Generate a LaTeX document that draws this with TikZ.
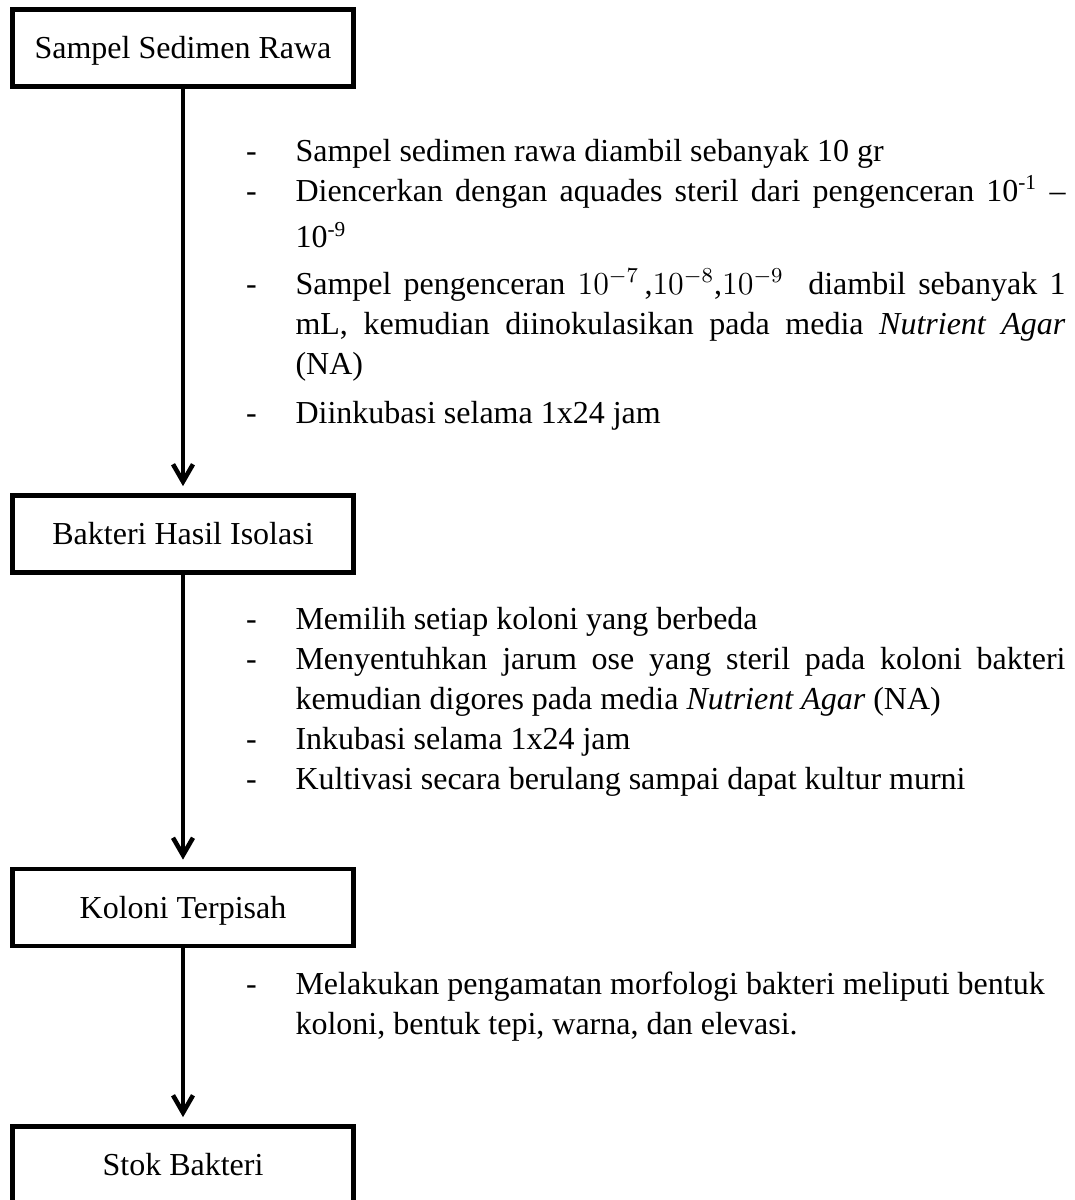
\documentclass[tikz,border=0pt]{standalone}
\usepackage{fontspec}
\setmainfont{Liberation Serif}
\usetikzlibrary{arrows.meta}
\newcommand{\itm}{\leavevmode\llap{-\hspace{14.5pt}}}
\tikzset{
  stage/.style={draw,line width=1.7pt,minimum width=127.9pt,minimum height=29pt,inner sep=0pt,text height=8pt,text depth=0pt,font=\fontsize{12}{15}\selectfont},
  steps/.style={anchor=base west,inner sep=0pt,text width=288.75pt,align=justify,font=\fontsize{12}{15}\selectfont},
  arr/.style={-{Straight Barb[length=6.5pt,width=7.5pt]},line width=1.7pt,shorten >=2.6pt},
}

\begin{document}
\begin{tikzpicture}[x=0.375pt,y=-0.375pt]
\clip (0,0) rectangle (1075,1200);
\node[stage] (sampel) at (183,48) {Sampel Sedimen Rawa};
\node[stage] (isolasi) at (183,534) {Bakteri Hasil Isolasi};
\node[stage] (koloni) at (183,907.5) {Koloni Terpisah};
\node[stage] (stok) at (183,1165) {Stok Bakteri};
\draw[arr] (sampel) -- (isolasi);
\draw[arr] (isolasi) -- (koloni);
\draw[arr] (koloni) -- (stok);
% langkah di antara kotak
\node[steps] (langkah1) at (295,161) {%
\itm Sampel sedimen rawa diambil sebanyak 10 gr\par
\itm Diencerkan dengan aquades steril dari pengenceran 10\textsuperscript{-1} –\vadjust{\vskip2.5pt}\linebreak 10\textsuperscript{-9}\par
\vspace{2.5pt}
\itm Sampel pengenceran $10^{-7}$\,,$10^{-8}$,$10^{-9}$\ \ diambil sebanyak 1\linebreak mL, kemudian diinokulasikan pada media \textit{Nutrient Agar}\linebreak (NA)\par
\vspace{3.4pt}
\itm Diinkubasi selama 1x24 jam};
\node[steps] (langkah2) at (295,629) {%
\itm Memilih setiap koloni yang berbeda\par
\itm Menyentuhkan jarum ose yang steril pada koloni bakteri\linebreak kemudian digores pada media \textit{Nutrient Agar} (NA)\par
\itm Inkubasi selama 1x24 jam\par
\itm Kultivasi secara berulang sampai dapat kultur murni};
\node[steps] (langkah3) at (295,994) {%
\itm Melakukan pengamatan morfologi bakteri meliputi bentuk\newline koloni, bentuk tepi, warna, dan elevasi.};
\end{tikzpicture}
\end{document}
